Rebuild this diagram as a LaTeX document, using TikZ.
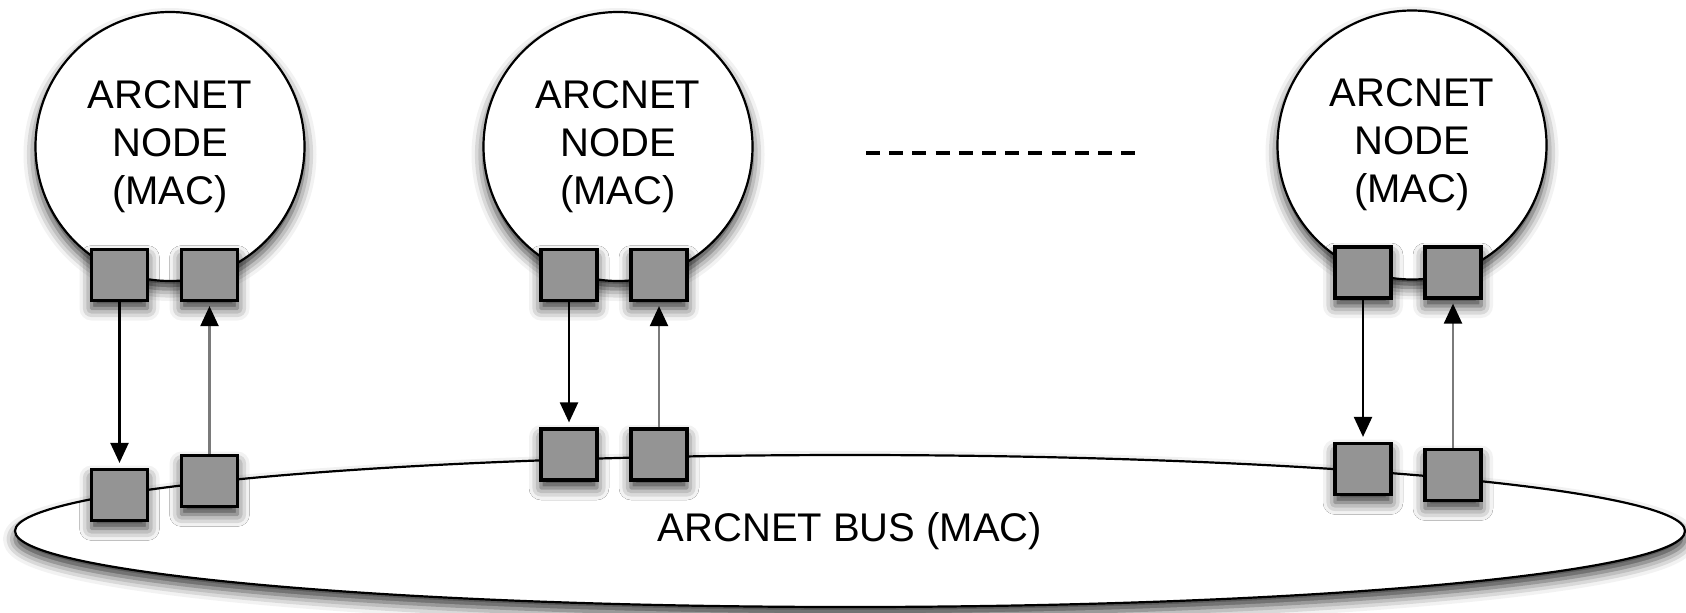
\documentclass[tikz,border=0pt]{standalone}
\usepackage{fontspec}
\setmainfont{Liberation Sans}
\usetikzlibrary{shapes.geometric,arrows.meta,shadows.blur}
\definecolor{sqfill}{HTML}{949494}
\definecolor{upline}{HTML}{7A7A7A}
\begin{document}
\begin{tikzpicture}[x=0.5pt,y=-0.5pt,
  shad/.style={blur shadow={shadow xshift=0pt,shadow yshift=-4pt,shadow blur radius=6pt,shadow opacity=80}},
  station/.style={circle,draw,line width=1.1pt,fill=white,minimum size=134.5pt,inner sep=0pt,align=center,font=\fontsize{20}{24}\selectfont,shad},
  bus/.style={ellipse,draw,line width=1.1pt,fill=white,minimum width=835pt,minimum height=76pt,inner sep=0pt,font=\fontsize{20}{24}\selectfont,shad},
  port/.style={rectangle,draw,line width=1.6pt,fill=sqfill,minimum width=28pt,minimum height=25.5pt,inner sep=0pt,shad},
  downarrow/.style={line width=1.1pt,-{Triangle[length=10pt,width=9pt]},shorten >=2.5pt},
  uparrow/.style={line width=1.1pt,draw=upline,-{Triangle[length=10pt,width=9pt,color=black]},shorten >=2pt},
  dots/.style={line width=1.7pt,dash pattern=on 7pt off 4.6pt}
  ]
\useasboundingbox (0,0) rectangle (1686,612);
% bus
\node[bus] (bus) at (850,531) {ARCNET BUS (MAC)};
% stations
\node[station] (n1) at (170,146.5) {ARCNET\\NODE\\(MAC)};
\node[station] (n2) at (618,146.5) {ARCNET\\NODE\\(MAC)};
\node[station] (n3) at (1412,145) {ARCNET\\NODE\\(MAC)};
% upper ports
\node[port] (u1a) at (119.5,275) {};
\node[port] (u1b) at (209.5,275) {};
\node[port] (u2a) at (569,275) {};
\node[port] (u2b) at (659,275) {};
\node[port] (u3a) at (1363,272.5) {};
\node[port] (u3b) at (1453,272.5) {};
% lower ports
\node[port] (l1a) at (119.5,495) {};
\node[port] (l1b) at (209.5,481) {};
\node[port] (l2a) at (569,454.5) {};
\node[port] (l2b) at (659,454.5) {};
\node[port] (l3a) at (1363,469) {};
\node[port] (l3b) at (1453,475) {};
% arrows
\draw[downarrow] (u1a) -- (l1a);
\draw[uparrow] (l1b) -- (u1b);
\draw[downarrow] (u2a) -- (l2a);
\draw[uparrow] (l2b) -- (u2b);
\draw[downarrow] (u3a) -- (l3a);
\draw[uparrow] (l3b) -- (u3b);
% ellipsis
\coordinate (d1) at (866,153);
\coordinate (d2) at (1135,153);
\draw[dots] (d1) -- (d2);
\end{tikzpicture}
\end{document}
